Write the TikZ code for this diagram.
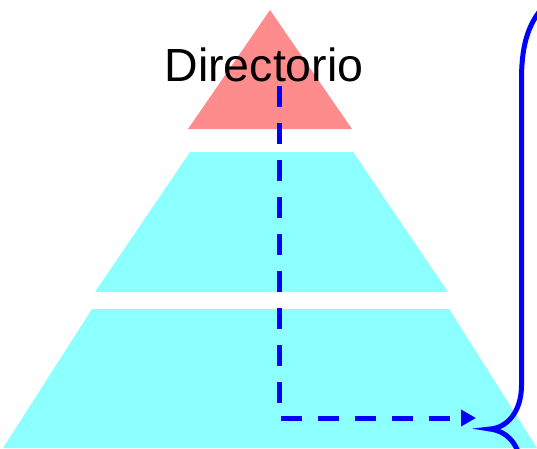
\documentclass[tikz,border=0pt]{standalone}
\usepackage{fontspec}
\setmainfont{Liberation Sans}
\usetikzlibrary{arrows.meta}
\definecolor{toprojo}{RGB}{255,140,140}
\definecolor{nivelcian}{RGB}{140,255,255}
\begin{document}
\begin{tikzpicture}[x=1pt,y=-1pt,
		nivel/.style={fill=nivelcian,draw=none},
		flujo/.style={blue,line width=5pt,dash pattern=on 21pt off 16pt,-{Triangle[length=15pt,width=16pt]}},
		llave/.style={blue,line width=5pt,line cap=round}]
					\useasboundingbox (0,0) rectangle (537,448);
					\clip (0,0) rectangle (537,448);
					% niveles
					\fill [toprojo] (270,10) -- (352,129) -- (188,129) -- cycle;
					\fill [nivel] (190,152) -- (353,152) -- (448,292) -- (95,292) -- cycle;
					\fill [nivel] (92,309) -- (449,309) -- (537,448) -- (3,448) -- cycle;
					
					\node (dir) [anchor=base,inner sep=0pt,font=\fontsize{46.5}{50}\selectfont] at (264,81) {Directorio};
					
					% flecha
					\coordinate (ini) at (279.5,86);
					\coordinate (esq) at (279.5,418);
					\coordinate (fin) at (476,418);
					\draw [flujo] (ini) -- (esq) -- (fin);
					
					% llave
					\coordinate (pico) at (490,429);
					\draw [llave] (545,5) .. controls (526,25) and (521.5,50) .. (521.5,80) -- (521.5,385)
						.. controls (521.5,413) and (506,428) .. (pico)
						.. controls (506,431) and (517,442) .. (521,462);
				\end{tikzpicture}
\end{document}
